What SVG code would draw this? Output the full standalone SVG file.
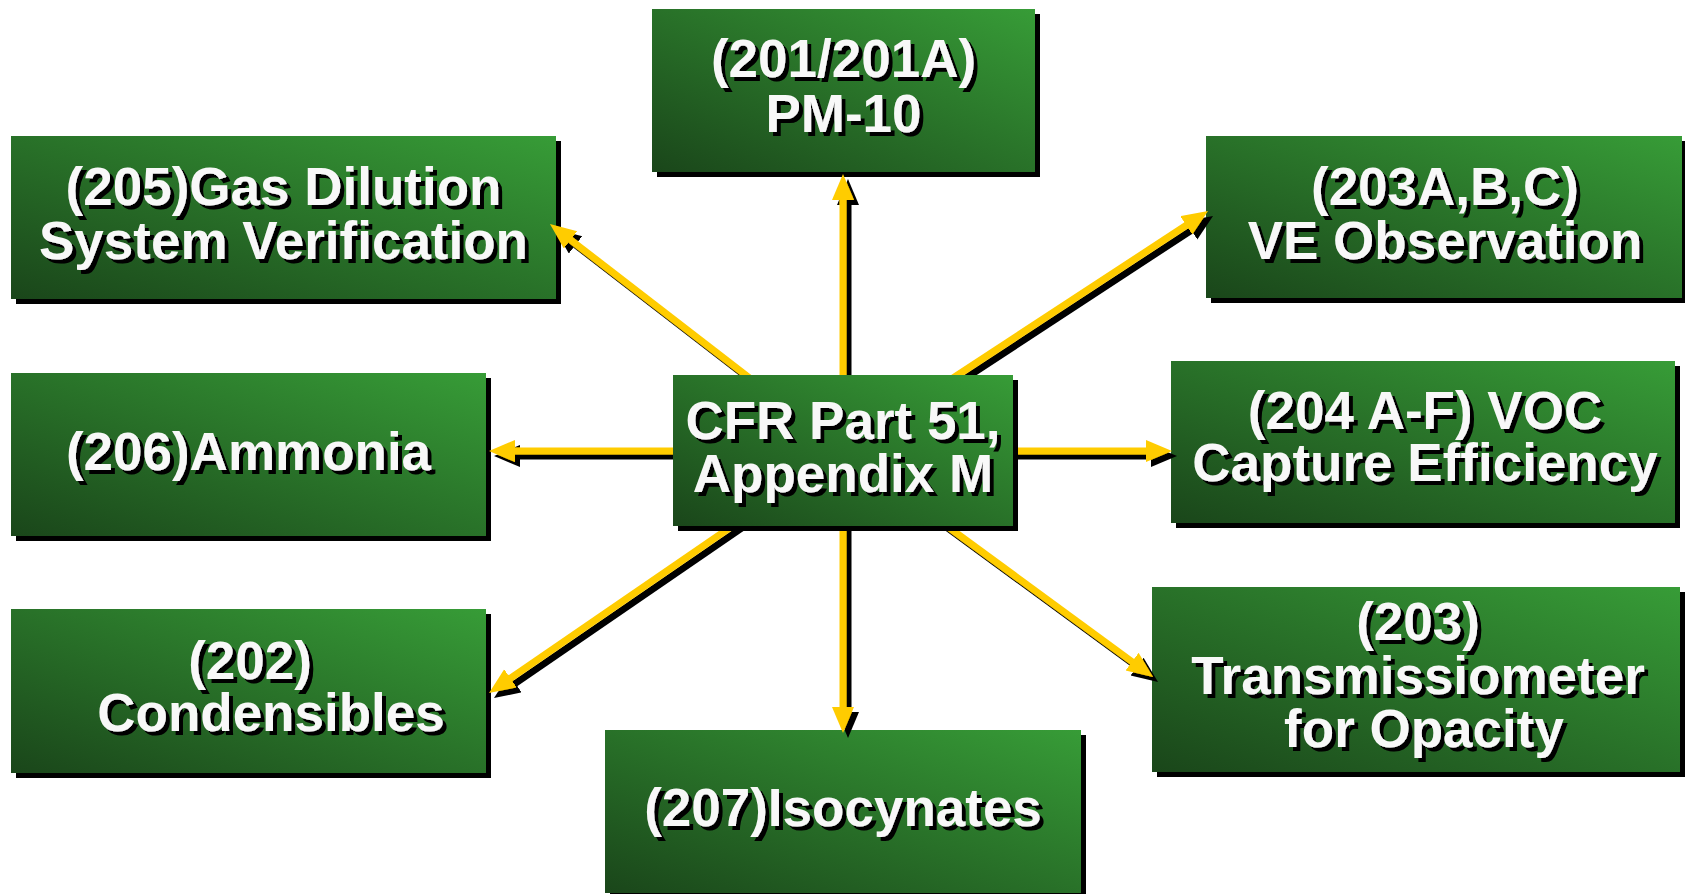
<svg xmlns="http://www.w3.org/2000/svg" width="1685" height="894" viewBox="0 0 1685 894">
<defs>
<style>
.box{fill:url(#g)}
.sh{fill:#000}
.t{font-family:"Liberation Sans",Arial,sans-serif;font-weight:bold;font-size:53px;fill:#f8f8f8;text-anchor:middle;filter:url(#ts)}
.ln{stroke:#FFCC00;stroke-width:7;fill:none;marker-end:url(#head)}
</style>
<linearGradient id="g" x1="0" y1="1" x2="1" y2="0">
<stop offset="0" stop-color="#1a461a"/>
<stop offset="1" stop-color="#379c37"/>
</linearGradient>
<filter id="ts" x="-10%" y="-20%" width="130%" height="150%">
<feOffset in="SourceAlpha" dx="3.5" dy="3.5" result="o"/>
<feFlood flood-color="#000"/>
<feComposite in2="o" operator="in" result="s"/>
<feMerge><feMergeNode in="s"/><feMergeNode in="SourceGraphic"/></feMerge>
</filter>
<filter id="as" x="-10%" y="-10%" width="130%" height="130%">
<feOffset in="SourceAlpha" dx="5" dy="5" result="o"/>
<feFlood flood-color="#000"/>
<feComposite in2="o" operator="in" result="s"/>
<feMerge><feMergeNode in="s"/><feMergeNode in="SourceGraphic"/></feMerge>
</filter>
<marker id="head" markerUnits="userSpaceOnUse" markerWidth="28" markerHeight="24" refX="6" refY="11" orient="auto">
<path d="M0,0 L26,11 L0,22 z" fill="#FFCC00"/>
</marker>
</defs>
<rect width="1685" height="894" fill="#fff"/>

<g id="n201">
<rect class="sh" x="657" y="14" width="383" height="163"/>
<rect class="box" x="652" y="9" width="383" height="163"/>
<text class="t" x="843.5" y="77">(201/201A)</text>
<text class="t" x="843.5" y="132">PM-10</text>
</g>
<g id="n205">
<rect class="sh" x="16" y="141" width="545" height="163"/>
<rect class="box" x="11" y="136" width="545" height="163"/>
<text class="t" x="283.5" y="205">(205)Gas Dilution</text>
<text class="t" x="283.5" y="259">System Verification</text>
</g>
<g id="n203abc">
<rect class="sh" x="1211" y="141" width="476" height="162"/>
<rect class="box" x="1206" y="136" width="476" height="162"/>
<text class="t" x="1445" y="205">(203A,B,C)</text>
<text class="t" x="1445" y="259">VE Observation</text>
</g>
<g id="n206">
<rect class="sh" x="16" y="378" width="475" height="163"/>
<rect class="box" x="11" y="373" width="475" height="163"/>
<text class="t" x="248.5" y="470">(206)Ammonia</text>
</g>
<g id="n204">
<rect class="sh" x="1176" y="366" width="504" height="162"/>
<rect class="box" x="1171" y="361" width="504" height="162"/>
<text class="t" x="1425" y="429">(204 A-F) VOC</text>
<text class="t" x="1425" y="481">Capture Efficiency</text>
</g>
<g id="n202">
<rect class="sh" x="16" y="614" width="475" height="164"/>
<rect class="box" x="11" y="609" width="475" height="164"/>
<text class="t" x="250" y="679">(202)</text>
<text class="t" x="271" y="731">Condensibles</text>
</g>
<g id="n203">
<rect class="sh" x="1157" y="592" width="528" height="185"/>
<rect class="box" x="1152" y="587" width="528" height="185"/>
<text class="t" x="1418" y="640">(203)</text>
<text class="t" x="1418" y="694">Transmissiometer</text>
<text class="t" x="1424" y="747">for Opacity</text>
</g>
<g id="n207">
<rect class="sh" x="610" y="735" width="476" height="163"/>
<rect class="box" x="605" y="730" width="476" height="163"/>
<text class="t" x="843" y="826">(207)Isocynates</text>
</g>

<g id="connectors" filter="url(#as)">
<line class="ln" x1="843" y1="450" x2="843" y2="194"/>
<line class="ln" x1="843" y1="450" x2="843" y2="713"/>
<line class="ln" x1="843" y1="451" x2="509" y2="451"/>
<line class="ln" x1="843" y1="451" x2="1152" y2="451"/>
<line class="ln" x1="843" y1="450" x2="565.8" y2="236.2"/>
<line class="ln" x1="843" y1="450" x2="1191.3" y2="222"/>
<line class="ln" x1="843" y1="450" x2="505.5" y2="681.7"/>
<line class="ln" x1="843" y1="450" x2="1136.9" y2="665.2"/>
</g>

<g id="center">
<rect class="sh" x="678" y="380" width="340" height="151"/>
<rect class="box" x="673" y="375" width="340" height="151"/>
<text class="t" x="843" y="439">CFR Part 51,</text>
<text class="t" x="843" y="492">Appendix M</text>
</g>
</svg>
